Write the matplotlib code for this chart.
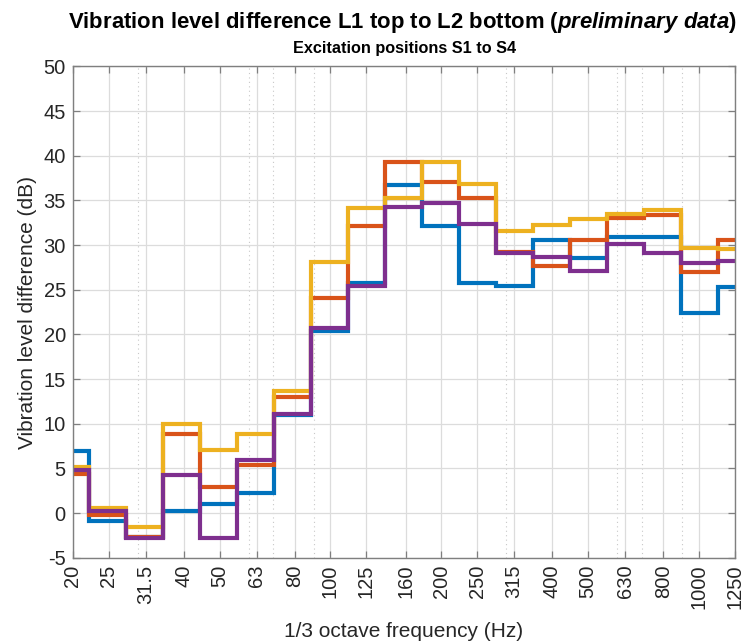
import numpy as np
import matplotlib.pyplot as plt
from matplotlib.ticker import FixedLocator, NullFormatter

plt.rcParams['font.family'] = ['Liberation Sans', 'DejaVu Sans']
plt.rcParams['axes.unicode_minus'] = False
plt.rcParams['mathtext.fontset'] = 'custom'
plt.rcParams['mathtext.rm'] = 'Liberation Sans:bold'
plt.rcParams['mathtext.it'] = 'Liberation Sans:italic:bold'

# 1/3 octave band labels (nominal) and exponent index relative to 1 kHz
band_labels = ["20", "25", "31.5", "40", "50", "63", "80", "100", "125", "160",
               "200", "250", "315", "400", "500", "630", "800", "1000", "1250"]
band_index = np.arange(-17, 2)

# vibration level difference per band, excitation positions S1..S4 (dB)
s1 = [6.9, -0.9, -2.7, 0.2, 1.0, 2.2, 11.0, 20.4, 25.7, 36.7, 32.1, 25.8, 25.4, 30.6, 28.5, 30.9, 30.9, 22.4, 25.3]
s2 = [4.4, -0.2, -2.7, 8.9, 2.9, 5.4, 13.0, 24.1, 32.1, 39.3, 37.1, 35.3, 29.2, 27.6, 30.6, 33.0, 33.4, 27.0, 30.6]
s3 = [5.1, 0.6, -1.6, 10.0, 7.0, 8.9, 13.7, 28.1, 34.1, 35.3, 39.3, 36.8, 31.6, 32.2, 32.9, 33.5, 33.9, 29.7, 29.6]
s4 = [4.8, 0.2, -2.8, 4.3, -2.8, 5.9, 11.1, 20.7, 25.4, 34.2, 34.7, 32.3, 29.1, 28.7, 27.1, 30.1, 29.1, 28.0, 28.2]

colors = ["#0072BD", "#D95319", "#EDB120", "#7E2F8E"]

centers = 1000.0 * 2.0 ** (band_index / 3.0)
edges = np.append(centers * 2 ** (-1 / 6), centers[-1] * 2 ** (1 / 6))
ticks = [float(t) for t in band_labels]

fig = plt.figure(figsize=(7.43, 6.44), dpi=100)
ax = fig.add_axes([0.098, 0.134, 0.891, 0.763])

for vals, c in zip([s1, s2, s3, s4], colors):
    ax.stairs(vals, edges, color=c, lw=3.0, baseline=None)

ax.set_xscale("log")
ax.set_xlim(20, 1250)
ax.set_ylim(-5, 50)
ax.set_yticks(np.arange(-5, 51, 5))
ax.xaxis.set_major_locator(FixedLocator(ticks))
ax.set_xticklabels(band_labels, rotation=90)
ax.xaxis.set_minor_locator(FixedLocator([30, 60, 70, 90, 300, 600, 700, 900]))
ax.xaxis.set_minor_formatter(NullFormatter())

ax.grid(True, which="major", color="#dcdcdc", lw=0.9)
ax.grid(True, which="minor", axis="x", color="#c8c8c8", lw=0.8, ls=(0, (1, 3)))
ax.set_axisbelow(True)

for sp in ax.spines.values():
    sp.set_color("#7f7f7f")
    sp.set_linewidth(1.0)
ax.tick_params(which="major", direction="in", length=5, width=0.9, color="#7f7f7f",
               top=True, right=True, labelsize=14.5, labelcolor="#262626", pad=5)
ax.tick_params(which="minor", length=0, top=True)

ax.set_xlabel("1/3 octave frequency (Hz)", fontsize=15, color="#262626", labelpad=9)
ax.set_ylabel("Vibration level difference (dB)", fontsize=15, color="#262626", labelpad=5)

fig.text(0.542, 0.965, r"Vibration level difference L1 top to L2 bottom ($\mathit{preliminary\ data}$)",
         ha="center", va="center", fontsize=15.9, fontweight="bold")
fig.text(0.544, 0.925, "Excitation positions S1 to S4", ha="center", va="center",
         fontsize=11.7, fontweight="bold")

plt.savefig("out.png", dpi=100)
plt.close()
